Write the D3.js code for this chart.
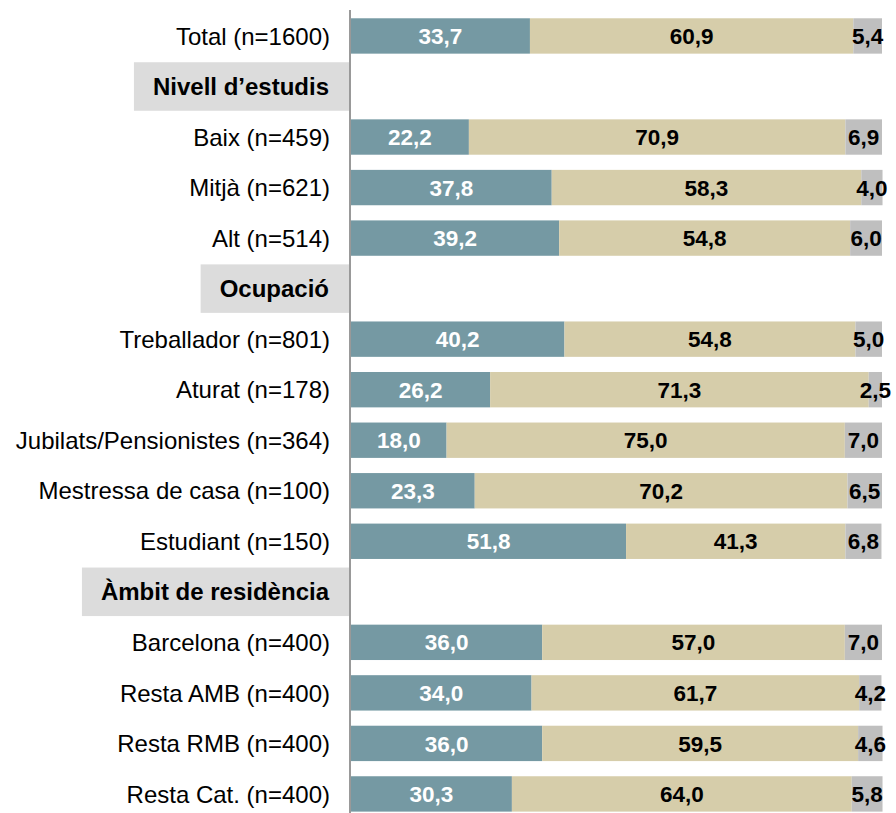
<!DOCTYPE html>
<html>
<head>
<meta charset="utf-8">
<script src="https://cdn.jsdelivr.net/npm/d3@7"></script>
<style>
  body { margin: 0; background: #fff; }
  svg { display: block; font-family: "Liberation Sans", Arial, sans-serif; }
</style>
</head>
<body>
<div id="chart"></div>
<script>
/* Stacked horizontal percentage bars, grouped by section headers */

const rows = [
  "Total (n=1600)",
  "Nivell d’estudis",
  "Baix (n=459)",
  "Mitjà (n=621)",
  "Alt (n=514)",
  "Ocupació",
  "Treballador (n=801)",
  "Aturat (n=178)",
  "Jubilats/Pensionistes (n=364)",
  "Mestressa de casa (n=100)",
  "Estudiant (n=150)",
  "Àmbit de residència",
  "Barcelona (n=400)",
  "Resta AMB (n=400)",
  "Resta RMB (n=400)",
  "Resta Cat. (n=400)"
];
const headers = ["Nivell d’estudis", "Ocupació", "Àmbit de residència"];

// bar rows only, in order (headers have no values)
const barRows = rows.filter(r => !headers.includes(r));
const seriesA = [33.7, 22.2, 37.8, 39.2, 40.2, 26.2, 18.0, 23.3, 51.8, 36.0, 34.0, 36.0, 30.3];
const seriesB = [60.9, 70.9, 58.3, 54.8, 54.8, 71.3, 75.0, 70.2, 41.3, 57.0, 61.7, 59.5, 64.0];
const seriesC = [5.4, 6.9, 4.0, 6.0, 5.0, 2.5, 7.0, 6.5, 6.8, 7.0, 4.2, 4.6, 5.8];

const keys = ["a", "b", "c"];
const colors = { a: "#7599a3", b: "#d6cdaa", c: "#bfbfbf" };
const textColors = { a: "#fff", b: "#000", c: "#000" };

const data = barRows.map((r, i) => ({ row: r, a: seriesA[i], b: seriesB[i], c: seriesC[i] }));

const width = 896, height = 813;
const axisX = 350;

const svg = d3.select("#chart").append("svg")
  .attr("width", width)
  .attr("height", height);

const y = d3.scaleBand()
  .domain(rows)
  .range([10.7, 819.2])
  .paddingInner(0.3)
  .paddingOuter(0.15);

const x = d3.scaleLinear()
  .domain([0, 100])
  .range([axisX + 1, 882]);

const series = d3.stack().keys(keys)(data);

// --- Bars ---
svg.append("g")
  .selectAll("g")
  .data(series)
  .join("g")
  .attr("fill", d => colors[d.key])
  .selectAll("rect")
  .data(d => d)
  .join("rect")
  .attr("x", d => x(d[0]))
  .attr("y", d => y(d.data.row))
  .attr("width", d => x(d[1]) - x(d[0]))
  .attr("height", y.bandwidth());

// --- Value labels ---
series.forEach(s => {
  svg.append("g")
    .selectAll("text")
    .data(s)
    .join("text")
    .attr("x", d => (x(d[0]) + x(d[1])) / 2)
    .attr("y", d => y(d.data.row) + y.bandwidth() / 2)
    .attr("dy", "0.36em")
    .attr("text-anchor", "middle")
    .attr("font-size", 22.5)
    .attr("font-weight", "bold")
    .attr("fill", textColors[s.key])
    .text(d => d.data[s.key].toFixed(1).replace(".", ","));
});

// --- Section header boxes ---
const headG = svg.append("g");
headers.forEach(h => {
  const cy = y(h) + y.bandwidth() / 2;
  const boxH = y.step() * 0.96;
  const rect = headG.append("rect")
    .attr("fill", "#dcdcdc")
    .attr("y", cy - boxH / 2)
    .attr("height", boxH);
  const t = headG.append("text")
    .attr("x", 329)
    .attr("y", cy)
    .attr("dy", "0.36em")
    .attr("text-anchor", "end")
    .attr("font-size", 24)
    .attr("font-weight", "bold")
    .attr("fill", "#000")
    .text(h);
  const w = t.node().getComputedTextLength();
  rect.attr("x", 329 - w - 19).attr("width", axisX - 1 - (329 - w - 19));
});

// --- Row labels ---
svg.append("g")
  .selectAll("text")
  .data(barRows)
  .join("text")
  .attr("x", 330)
  .attr("y", d => y(d) + y.bandwidth() / 2)
  .attr("dy", "0.36em")
  .attr("text-anchor", "end")
  .attr("font-size", 24)
  .attr("fill", "#000")
  .text(d => d);

// --- Category axis line ---
svg.append("line")
  .attr("x1", axisX).attr("x2", axisX)
  .attr("y1", 10).attr("y2", height)
  .attr("stroke", "#999")
  .attr("stroke-width", 2);
</script>
</body>
</html>
